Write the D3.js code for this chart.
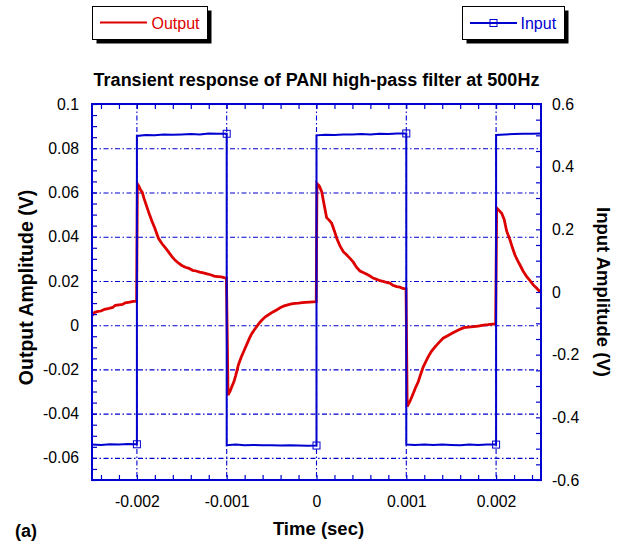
<!DOCTYPE html>
<html>
<head>
<meta charset="utf-8">
<script src="https://cdn.jsdelivr.net/npm/d3@7"></script>
<style>
  html, body { margin: 0; padding: 0; background: #fff; }
  svg { display: block; font-family: "Liberation Sans", Arial, sans-serif; }
</style>
</head>
<body>
<svg id="chart" width="623" height="542"></svg>
<script>
// ---- data (time in ms, amplitudes in V) ----
const outputTimeMs = [
  -2.5, -2.47, -2.43, -2.40, -2.36, -2.31, -2.27, -2.24, -2.20, -2.16, -2.13, -2.08, -2.04, -2.003,
  -1.995, -1.98, -1.96, -1.94, -1.92, -1.89, -1.86, -1.83, -1.80, -1.76, -1.72, -1.68, -1.64, -1.61,
  -1.57, -1.535, -1.50, -1.46, -1.42, -1.38, -1.34, -1.30, -1.26, -1.22, -1.18, -1.14, -1.10, -1.06,
  -1.02, -1.003,
  -0.985, -0.96, -0.94, -0.92, -0.90, -0.87, -0.84, -0.81, -0.78, -0.75, -0.72, -0.68, -0.64, -0.61,
  -0.57, -0.53, -0.48, -0.44, -0.40, -0.36, -0.32, -0.28, -0.24, -0.20, -0.16, -0.12, -0.08, -0.04,
  -0.003,
  0.005, 0.03, 0.058, 0.085, 0.113, 0.14, 0.169, 0.20, 0.225, 0.26, 0.298, 0.335, 0.373, 0.41,
  0.445, 0.484, 0.52, 0.56, 0.596, 0.63, 0.67, 0.707, 0.74, 0.78, 0.818, 0.85, 0.893, 0.93, 0.96,
  0.997,
  1.01, 1.04, 1.078, 1.10, 1.133, 1.16, 1.189, 1.22, 1.245, 1.28, 1.32, 1.36, 1.41, 1.46, 1.52,
  1.58, 1.64, 1.69, 1.75, 1.80, 1.86, 1.91, 1.96, 1.995,
  2.006, 2.03, 2.062, 2.09, 2.118, 2.155, 2.18, 2.21, 2.24, 2.266, 2.30, 2.341, 2.38, 2.414, 2.45,
  2.489, 2.5
];
const outputVolts = [
  0.0043, 0.0058, 0.0062, 0.0064, 0.0072, 0.0076, 0.0080, 0.0090, 0.0092, 0.0094, 0.0101, 0.0104, 0.0108, 0.0109,
  0.0640, 0.0630, 0.0612, 0.0600, 0.0572, 0.0536, 0.0500, 0.0468, 0.0438, 0.0393, 0.0368, 0.0348, 0.0327, 0.0310,
  0.0292, 0.0280, 0.0270, 0.0262, 0.0257, 0.0248, 0.0245, 0.0240, 0.0236, 0.0232, 0.0228, 0.0222, 0.0220, 0.0218,
  0.0214, 0.0212,
  -0.0316, -0.0296, -0.0275, -0.0256, -0.0228, -0.0180, -0.0146, -0.0118, -0.0090, -0.0062, -0.0037, -0.0014, 0.0008, 0.0022,
  0.0038, 0.0048, 0.0061, 0.0070, 0.0080, 0.0087, 0.0092, 0.0096, 0.0099, 0.0100, 0.0102, 0.0103, 0.0104, 0.0105,
  0.0106,
  0.0640, 0.0630, 0.0604, 0.0545, 0.0486, 0.0475, 0.0461, 0.0425, 0.0393, 0.0360, 0.0332, 0.0318, 0.0302, 0.0285,
  0.0262, 0.0245, 0.0238, 0.0230, 0.0222, 0.0213, 0.0207, 0.0201, 0.0198, 0.0194, 0.0190, 0.0180, 0.0174, 0.0172, 0.0166,
  0.0164,
  -0.0368, -0.0345, -0.0308, -0.0285, -0.0256, -0.0222, -0.0188, -0.0163, -0.0142, -0.0118, -0.0098, -0.0080, -0.0059, -0.0048, -0.0034,
  -0.0022, -0.0011, -0.0009, -0.0007, -0.0004, 0.0000, 0.0002, 0.0005, 0.0006,
  0.0530, 0.0520, 0.0506, 0.0478, 0.0425, 0.0385, 0.0352, 0.0317, 0.0292, 0.0272, 0.0245, 0.0219, 0.0200, 0.0182, 0.0168,
  0.0151, 0.0150
];

const inputTimeMs = [
  -2.5, -2.4, -2.3, -2.2, -2.1, -2.0,
  -2.0, -1.9, -1.8, -1.7, -1.6, -1.5, -1.4, -1.3, -1.2, -1.1, -1.0,
  -1.0, -0.9, -0.8, -0.7, -0.6, -0.5, -0.4, -0.3, -0.2, -0.1, 0.0,
  0.0, 0.1, 0.2, 0.3, 0.4, 0.5, 0.6, 0.7, 0.8, 0.9, 1.0,
  1.0, 1.1, 1.2, 1.3, 1.4, 1.5, 1.6, 1.7, 1.8, 1.9, 2.0,
  2.0, 2.1, 2.2, 2.3, 2.4, 2.5
];
const inputVolts = [
  -0.487, -0.488, -0.486, -0.487, -0.485, -0.486,
  0.498, 0.501, 0.500, 0.503, 0.502, 0.503, 0.504, 0.503, 0.506, 0.505, 0.505,
  -0.489, -0.487, -0.489, -0.488, -0.489, -0.489, -0.490, -0.489, -0.490, -0.491, -0.490,
  0.500, 0.502, 0.501, 0.503, 0.503, 0.504, 0.503, 0.505, 0.504, 0.506, 0.506,
  -0.487, -0.488, -0.487, -0.488, -0.487, -0.488, -0.489, -0.487, -0.488, -0.487, -0.487,
  0.501, 0.503, 0.504, 0.505, 0.505, 0.506
];

const timeTicks = [-0.002, -0.001, 0, 0.001, 0.002];
const timeTickLabels = ["-0.002", "-0.001", "0", "0.001", "0.002"];
const outputTicks = [0.1, 0.08, 0.06, 0.04, 0.02, 0, -0.02, -0.04, -0.06];
const outputTickLabels = ["0.1", "0.08", "0.06", "0.04", "0.02", "0", "-0.02", "-0.04", "-0.06"];
const inputTicks = [0.6, 0.4, 0.2, 0, -0.2, -0.4, -0.6];
const inputTickLabels = ["0.6", "0.4", "0.2", "0", "-0.2", "-0.4", "-0.6"];

// ---- layout ----
const svg = d3.select("#chart");
const plotL = 92, plotR = 541, plotT = 104, plotB = 480;
const BLUE = "#0000d0", RED = "#dd0000";

const x = d3.scaleLinear().domain([-0.0025, 0.0025]).range([plotL, plotR]);
const yOut = d3.scaleLinear().domain([-0.07, 0.1]).range([plotB, plotT]);
const yIn = d3.scaleLinear().domain([-0.6, 0.6]).range([plotB, plotT]);

const outputData = outputTimeMs.map((t, i) => ({ t: t / 1000, v: outputVolts[i] }));
const inputData = inputTimeMs.map((t, i) => ({ t: t / 1000, v: inputVolts[i] }));

// ---- grid ----
const grid = svg.append("g").attr("stroke", BLUE).attr("stroke-width", 1.1)
  .attr("stroke-dasharray", "5,2.5,1.5,2.5").attr("fill", "none");
grid.selectAll("line.h").data(outputTicks.filter(v => v < 0.1)).join("line")
  .attr("class", "h")
  .attr("x1", plotL).attr("x2", plotR)
  .attr("y1", d => yOut(d) + 0.5).attr("y2", d => yOut(d) + 0.5);
grid.selectAll("line.v").data(timeTicks).join("line")
  .attr("class", "v")
  .attr("y1", plotT).attr("y2", plotB)
  .attr("x1", d => x(d)).attr("x2", d => x(d));

// ---- traces ----
svg.append("path").datum(outputData)
  .attr("fill", "none").attr("stroke", RED).attr("stroke-width", 2.8)
  .attr("d", d3.line().x(d => x(d.t)).y(d => yOut(d.v)));

svg.append("path").datum(inputData)
  .attr("fill", "none").attr("stroke", BLUE).attr("stroke-width", 2)
  .attr("d", d3.line().x(d => x(d.t)).y(d => yIn(d.v)));

// markers sit on the last sample before each edge
const markerPts = inputData.filter((d, i) => i + 1 < inputData.length && inputData[i + 1].t === d.t);
svg.selectAll("rect.mk").data(markerPts).join("rect")
  .attr("class", "mk")
  .attr("x", d => x(d.t) - 3.5).attr("y", d => yIn(d.v) - 3.5)
  .attr("width", 7).attr("height", 7)
  .attr("fill", "none").attr("stroke", BLUE).attr("stroke-width", 1);

// ---- axes ----
function styleAxis(g) {
  g.select(".domain").remove();
  g.selectAll(".tick line").attr("stroke", BLUE).attr("stroke-width", 1.2);
  g.selectAll(".tick text").attr("fill", "#000").attr("font-size", "15.8px")
    .attr("font-family", "'Liberation Sans', Arial, sans-serif");
}
const xMinor = d3.range(-24, 25, 2).map(k => k / 10000);
const yOutMinor = d3.range(-14, 21).map(k => k * 0.005);
const yInMinor = d3.range(-12, 13).map(k => k * 0.05);

svg.append("g").attr("transform", `translate(0,${plotB})`)
  .call(d3.axisBottom(x).tickValues(xMinor).tickSize(-5).tickFormat(""))
  .call(styleAxis);
svg.append("g").attr("transform", `translate(0,${plotT})`)
  .call(d3.axisTop(x).tickValues(xMinor).tickSize(-5).tickFormat(""))
  .call(styleAxis);
svg.append("g").attr("transform", `translate(${plotL},0)`)
  .call(d3.axisLeft(yOut).tickValues(yOutMinor).tickSize(-5).tickFormat(""))
  .call(styleAxis);
svg.append("g").attr("transform", `translate(${plotR},0)`)
  .call(d3.axisRight(yIn).tickValues(yInMinor).tickSize(-5).tickFormat(""))
  .call(styleAxis);

// labelled ticks
svg.append("g").attr("transform", `translate(0,${plotB})`)
  .call(d3.axisBottom(x).tickValues(timeTicks).tickSize(0).tickPadding(16)
    .tickFormat((d, i) => timeTickLabels[i]))
  .call(styleAxis);
svg.append("g").attr("transform", `translate(${plotL},0)`)
  .call(d3.axisLeft(yOut).tickValues(outputTicks).tickSize(0).tickPadding(13)
    .tickFormat((d, i) => outputTickLabels[i]))
  .call(styleAxis);
svg.append("g").attr("transform", `translate(${plotR},0)`)
  .call(d3.axisRight(yIn).tickValues(inputTicks).tickSize(0).tickPadding(11)
    .tickFormat((d, i) => inputTickLabels[i]))
  .call(styleAxis);

// frame
svg.append("rect").attr("x", plotL).attr("y", plotT)
  .attr("width", plotR - plotL).attr("height", plotB - plotT)
  .attr("fill", "none").attr("stroke", BLUE).attr("stroke-width", 2);

// ---- titles ----
svg.append("text").attr("x", 316.5).attr("y", 86).attr("text-anchor", "middle")
  .attr("font-size", "18px").attr("font-weight", "bold")
  .text("Transient response of PANI high-pass filter at 500Hz");
svg.append("text").attr("x", 318.5).attr("y", 535).attr("text-anchor", "middle")
  .attr("font-size", "18.5px").attr("font-weight", "bold").text("Time (sec)");
svg.append("text").attr("transform", "translate(33,287.5) rotate(-90)")
  .attr("text-anchor", "middle").attr("font-size", "19.5px").attr("font-weight", "bold")
  .text("Output Amplitude (V)");
svg.append("text").attr("transform", "translate(597,292) rotate(90)")
  .attr("text-anchor", "middle").attr("font-size", "18.5px").attr("font-weight", "bold")
  .text("Input Amplitude (V)");
svg.append("text").attr("x", 15).attr("y", 537)
  .attr("font-size", "18px").attr("font-weight", "bold").text("(a)");

// ---- legends ----
function legendBox(x0, y0, w, h) {
  svg.append("rect").attr("x", x0 + 4).attr("y", y0 + 4).attr("width", w).attr("height", h).attr("fill", "#000");
  svg.append("rect").attr("x", x0).attr("y", y0).attr("width", w).attr("height", h)
    .attr("fill", "#fff").attr("stroke", "#000").attr("stroke-width", 1);
}
legendBox(92.5, 6.5, 115, 33);
svg.append("line").attr("x1", 100).attr("x2", 147).attr("y1", 22.5).attr("y2", 22.5)
  .attr("stroke", RED).attr("stroke-width", 2);
svg.append("text").attr("x", 151.5).attr("y", 28.5).attr("font-size", "16px").attr("fill", RED).text("Output");

legendBox(462.5, 6.5, 102, 33);
svg.append("line").attr("x1", 470).attr("x2", 517).attr("y1", 23).attr("y2", 23)
  .attr("stroke", BLUE).attr("stroke-width", 2);
svg.append("rect").attr("x", 490).attr("y", 19.5).attr("width", 7).attr("height", 7)
  .attr("fill", "none").attr("stroke", BLUE).attr("stroke-width", 1);
svg.append("text").attr("x", 520.5).attr("y", 29).attr("font-size", "16px").attr("fill", BLUE).text("Input");
</script>
</body>
</html>
